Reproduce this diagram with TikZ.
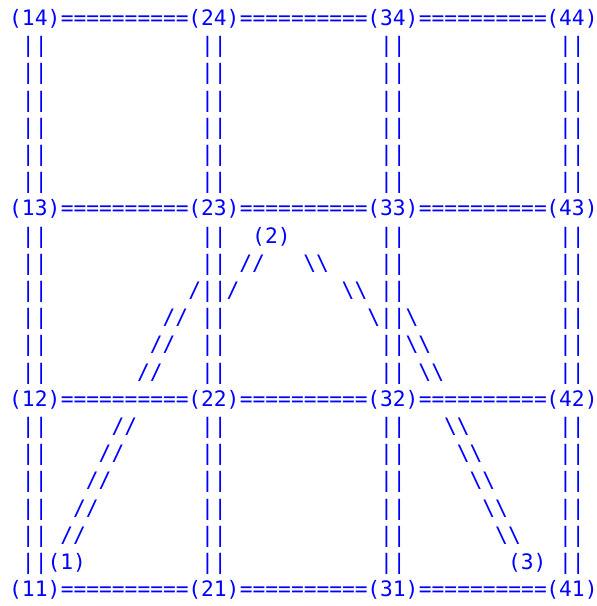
\documentclass[tikz,border=0pt]{standalone}
\usepackage{fontspec}
\setmonofont{DejaVu Sans Mono}

\tikzset{
    txt/.style={blue, inner sep=0pt, anchor=base west,
        font=\ttfamily\fontsize{21.25}{27}\selectfont},
}

\begin{document}
\begin{tikzpicture}[x=12.79pt, y=-27.19pt]
    % Fix the margins of the page
    \useasboundingbox (-0.704,-0.942) rectangle (45.97,21.346);

    % Grid points, a row of labels every seven lines
    \foreach \row/\y in {4/0, 3/7, 2/14, 1/21} {
        \foreach \col/\x in {1/0, 2/14, 3/28, 4/42} {
            \node[txt] (p\col\row) at (\x,\y) {(\col\row)};
        }
    }

    % Horizontal links between the grid points
    \foreach \row in {1,...,4} {
        \foreach \a/\b in {1/2, 2/3, 3/4} {
            \node[txt] (h\a\b\row) at (p\a\row.base east) {==========};
        }
    }

    % Vertical links between the grid points
    \foreach \x in {1, 15, 29, 43} {
        \foreach \b in {0, 7, 14} {
            \foreach \k in {1,...,6} {
                \node[txt] at (\x,{\b+\k}) {||};
            }
        }
    }

    % Points 1, 2 and 3
    \node[txt] (q1) at (3,20) {(1)};
    \node[txt] (q2) at (19,8) {(2)};
    \node[txt] (q3) at (39,20) {(3)};

    % Slashes from (1) up to (2)
    \foreach \x/\y in {4/19, 5/18, 6/17, 7/16, 8/15, 10/13, 11/12, 12/11, 18/9} {
        \node[txt] at (\x,\y) {//};
    }
    \node[txt] at (14,10) {/};
    \node[txt] at (17,10) {/};

    % Backslashes from (2) down to (3)
    \foreach \x/\y in {23/9, 26/10, 31/12, 32/13, 34/15, 35/16, 36/17, 37/18, 38/19} {
        \node[txt] at (\x,\y) {\textbackslash\textbackslash};
    }
    \node[txt] at (28,11) {\textbackslash};
    \node[txt] at (31,11) {\textbackslash};
\end{tikzpicture}
\end{document}
